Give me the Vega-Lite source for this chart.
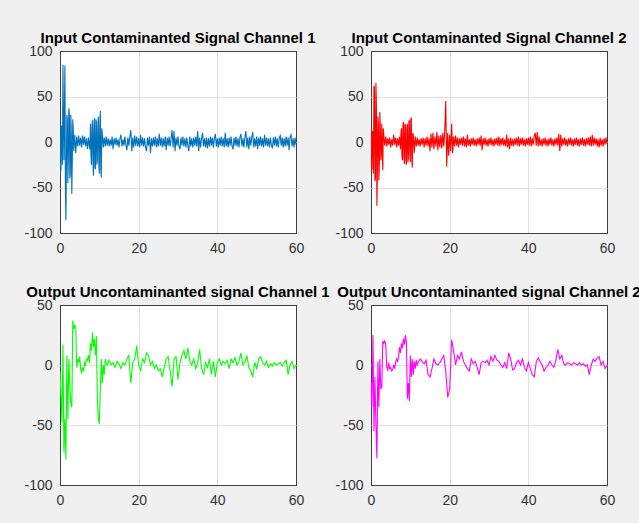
{
"$schema":"https://vega.github.io/schema/vega-lite/v6.json",
"background":"#f0f0f0",
"padding":{"left":23,"top":30,"right":0,"bottom":25},
"columns":2,
"bounds":"flush",
"spacing":{"row":72,"column":75},
"datasets":{
"a":[{"x":0,"y":20},{"x":0.25,"y":-30},{"x":0.5,"y":15},{"x":0.75,"y":85},{"x":1,"y":-20},{"x":1.25,"y":84},{"x":1.5,"y":-86},{"x":1.75,"y":30},{"x":2,"y":-45},{"x":2.25,"y":37},{"x":2.5,"y":-40},{"x":2.75,"y":30},{"x":3,"y":-57},{"x":3.25,"y":25},{"x":3.5,"y":-10},{"x":3.75,"y":8},{"x":4,"y":-12},{"x":4.25,"y":6},{"x":4.5,"y":-5},{"x":4.75,"y":7},{"x":5,"y":-4},{"x":5.25,"y":5},{"x":5.5,"y":-6},{"x":5.75,"y":7},{"x":6,"y":-3},{"x":6.25,"y":6},{"x":6.5,"y":-5},{"x":6.75,"y":4},{"x":7,"y":-8},{"x":7.25,"y":5},{"x":7.5,"y":-6},{"x":7.75,"y":20},{"x":8,"y":-25},{"x":8.25,"y":24},{"x":8.5,"y":-37},{"x":8.75,"y":26},{"x":9,"y":-30},{"x":9.25,"y":22},{"x":9.5,"y":-20},{"x":9.75,"y":28},{"x":10,"y":-35},{"x":10.25,"y":34},{"x":10.5,"y":-39},{"x":10.75,"y":10},{"x":11,"y":-6},{"x":11.25,"y":5},{"x":11.5,"y":-5},{"x":11.75,"y":6},{"x":12,"y":-4},
{"x":0.125,"y":-35},{"x":0.375,"y":18},{"x":0.625,"y":-25},{"x":0.875,"y":30},{"x":1.125,"y":35},{"x":1.375,"y":-50},{"x":1.625,"y":-30},{"x":1.875,"y":25},{"x":2.125,"y":-20},{"x":2.375,"y":32},{"x":2.625,"y":-35},{"x":2.875,"y":10},{"x":3.125,"y":-20},{"x":3.375,"y":12},{"x":7.625,"y":-8},{"x":7.875,"y":-15},{"x":8.125,"y":15},{"x":8.375,"y":-20},{"x":8.625,"y":18},{"x":8.875,"y":-28},{"x":9.125,"y":25},{"x":9.375,"y":-25},{"x":9.625,"y":18},{"x":9.875,"y":-22},{"x":10.125,"y":20},{"x":10.375,"y":-30},{"x":10.625,"y":15},
{"x":12.25,"y":4},{"x":12.5,"y":-5},{"x":12.75,"y":3},{"x":13,"y":-4},{"x":13.25,"y":6},{"x":13.5,"y":-8},{"x":13.75,"y":4},{"x":14,"y":-3},{"x":14.25,"y":5},{"x":14.5,"y":-4},{"x":14.75,"y":3},{"x":15,"y":-6},{"x":15.25,"y":4},{"x":15.5,"y":8},{"x":15.75,"y":-5},{"x":16,"y":3},{"x":16.25,"y":-4},{"x":16.5,"y":6},{"x":16.75,"y":-3},{"x":17,"y":-9},{"x":17.25,"y":5},{"x":17.5,"y":-4},{"x":17.75,"y":6},{"x":18,"y":13},{"x":18.25,"y":-10},{"x":18.5,"y":5},{"x":18.75,"y":-6},{"x":19,"y":7},{"x":19.25,"y":-4},{"x":19.5,"y":6},{"x":19.75,"y":-5},{"x":20,"y":4},{"x":20.25,"y":-6},{"x":20.5,"y":8},{"x":20.75,"y":-4},{"x":21,"y":5},{"x":21.25,"y":-5},{"x":21.5,"y":4},{"x":21.75,"y":-6},{"x":22,"y":-10},{"x":22.25,"y":5},{"x":22.5,"y":-4},{"x":22.75,"y":6},{"x":23,"y":-12},{"x":23.25,"y":4},{"x":23.5,"y":-5},{"x":23.75,"y":5},{"x":24,"y":-4},{"x":24.25,"y":6},{"x":24.5,"y":-6},{"x":24.75,"y":4},{"x":25,"y":-5},{"x":25.25,"y":9},{"x":25.5,"y":-4},{"x":25.75,"y":5},{"x":26,"y":-6},{"x":26.25,"y":4},{"x":26.5,"y":-5},{"x":26.75,"y":6},{"x":27,"y":-9},{"x":27.25,"y":5},{"x":27.5,"y":-4},{"x":27.75,"y":6},{"x":28,"y":-5},{"x":28.25,"y":4},{"x":28.5,"y":13},{"x":28.75,"y":-6},{"x":29,"y":12},{"x":29.25,"y":-10},{"x":29.5,"y":5},{"x":29.75,"y":-4},{"x":30,"y":6},{"x":30.25,"y":-5},{"x":30.5,"y":-8},{"x":30.75,"y":5},{"x":31,"y":-4},{"x":31.25,"y":6},{"x":31.5,"y":-5},{"x":31.75,"y":4},{"x":32,"y":-6},{"x":32.25,"y":5},{"x":32.5,"y":-4},{"x":32.75,"y":-10},{"x":33,"y":6},{"x":33.25,"y":-5},{"x":33.5,"y":4},{"x":33.75,"y":-6},{"x":34,"y":5},{"x":34.25,"y":-4},{"x":34.5,"y":6},{"x":34.75,"y":-5},{"x":35,"y":12},{"x":35.25,"y":-10},{"x":35.5,"y":5},{"x":35.75,"y":-6},{"x":36,"y":4},{"x":36.25,"y":10},{"x":36.5,"y":-5},{"x":36.75,"y":4},{"x":37,"y":-6},{"x":37.25,"y":5},{"x":37.5,"y":-7},{"x":37.75,"y":4},{"x":38,"y":-5},{"x":38.25,"y":6},{"x":38.5,"y":-4},{"x":38.75,"y":5},{"x":39,"y":-6},{"x":39.25,"y":4},{"x":39.5,"y":9},{"x":39.75,"y":-5},{"x":40,"y":4},{"x":40.25,"y":-6},{"x":40.5,"y":5},{"x":40.75,"y":-4},{"x":41,"y":6},{"x":41.25,"y":-5},{"x":41.5,"y":4},{"x":41.75,"y":-6},{"x":42,"y":10},{"x":42.25,"y":-5},{"x":42.5,"y":4},{"x":42.75,"y":-6},{"x":43,"y":5},{"x":43.25,"y":-4},{"x":43.5,"y":6},{"x":43.75,"y":-5},{"x":44,"y":-8},{"x":44.25,"y":5},{"x":44.5,"y":-4},{"x":44.75,"y":6},{"x":45,"y":-5},{"x":45.25,"y":4},{"x":45.5,"y":-6},{"x":45.75,"y":5},{"x":46,"y":9},{"x":46.25,"y":-5},{"x":46.5,"y":4},{"x":46.75,"y":-6},{"x":47,"y":5},{"x":47.25,"y":12},{"x":47.5,"y":-6},{"x":47.75,"y":5},{"x":48,"y":-8},{"x":48.25,"y":6},{"x":48.5,"y":-4},{"x":48.75,"y":5},{"x":49,"y":11},{"x":49.25,"y":-6},{"x":49.5,"y":4},{"x":49.75,"y":-5},{"x":50,"y":6},{"x":50.25,"y":-8},{"x":50.5,"y":5},{"x":50.75,"y":-4},{"x":51,"y":6},{"x":51.25,"y":-5},{"x":51.5,"y":4},{"x":51.75,"y":-6},{"x":52,"y":8},{"x":52.25,"y":-4},{"x":52.5,"y":5},{"x":52.75,"y":-5},{"x":53,"y":4},{"x":53.25,"y":-6},{"x":53.5,"y":5},{"x":53.75,"y":-4},{"x":54,"y":-7},{"x":54.25,"y":5},{"x":54.5,"y":-4},{"x":54.75,"y":6},{"x":55,"y":-5},{"x":55.25,"y":4},{"x":55.5,"y":-6},{"x":55.75,"y":5},{"x":56,"y":7},{"x":56.25,"y":-4},{"x":56.5,"y":5},{"x":56.75,"y":-6},{"x":57,"y":4},{"x":57.25,"y":-5},{"x":57.5,"y":6},{"x":57.75,"y":-4},{"x":58,"y":5},{"x":58.25,"y":-9},{"x":58.5,"y":6},{"x":58.75,"y":8},{"x":59,"y":-5},{"x":59.25,"y":4},{"x":59.5,"y":-6},{"x":59.75,"y":5},{"x":60,"y":-3}],
"b":[{"x":0,"y":15},{"x":0.25,"y":-30},{"x":0.5,"y":10},{"x":0.75,"y":62},{"x":1,"y":-43},{"x":1.25,"y":65},{"x":1.5,"y":-70},{"x":1.75,"y":28},{"x":2,"y":-42},{"x":2.25,"y":33},{"x":2.5,"y":-20},{"x":2.75,"y":20},{"x":3,"y":-31},{"x":3.25,"y":8},{"x":3.5,"y":-4},{"x":3.75,"y":6},{"x":4,"y":-5},{"x":4.25,"y":4},{"x":4.5,"y":-3},{"x":4.75,"y":5},{"x":5,"y":-6},{"x":5.25,"y":3},{"x":5.5,"y":-4},{"x":5.75,"y":8},{"x":6,"y":-3},{"x":6.25,"y":5},{"x":6.5,"y":-6},{"x":6.75,"y":4},{"x":7,"y":-4},{"x":7.25,"y":6},{"x":7.5,"y":-8},{"x":7.75,"y":15},{"x":8,"y":-20},{"x":8.25,"y":22},{"x":8.5,"y":-24},{"x":8.75,"y":18},{"x":9,"y":-25},{"x":9.25,"y":20},{"x":9.5,"y":-18},{"x":9.75,"y":24},{"x":10,"y":-22},{"x":10.25,"y":27},{"x":10.5,"y":-28},{"x":10.75,"y":8},{"x":11,"y":-12},{"x":11.25,"y":6},{"x":11.5,"y":-5},{"x":11.75,"y":5},{"x":12,"y":-4},
{"x":0.125,"y":-25},{"x":0.375,"y":12},{"x":0.625,"y":-35},{"x":0.875,"y":60},{"x":1.125,"y":-40},{"x":1.375,"y":40},{"x":1.625,"y":-35},{"x":1.875,"y":20},{"x":2.125,"y":-25},{"x":2.375,"y":15},{"x":2.625,"y":-10},{"x":2.875,"y":-15},{"x":3.125,"y":15},{"x":7.625,"y":10},{"x":7.875,"y":-15},{"x":8.125,"y":18},{"x":8.375,"y":-18},{"x":8.625,"y":20},{"x":8.875,"y":-20},{"x":9.125,"y":15},{"x":9.375,"y":-22},{"x":9.625,"y":22},{"x":9.875,"y":-15},{"x":10.125,"y":25},{"x":10.375,"y":-20},{"x":10.625,"y":10},
{"x":12.25,"y":3},{"x":12.5,"y":-5},{"x":12.75,"y":4},{"x":13,"y":-3},{"x":13.25,"y":5},{"x":13.5,"y":-6},{"x":13.75,"y":4},{"x":14,"y":-4},{"x":14.25,"y":6},{"x":14.5,"y":-5},{"x":14.75,"y":4},{"x":15,"y":-10},{"x":15.25,"y":9},{"x":15.5,"y":-6},{"x":15.75,"y":10},{"x":16,"y":-8},{"x":16.25,"y":6},{"x":16.5,"y":-5},{"x":16.75,"y":11},{"x":17,"y":-9},{"x":17.25,"y":7},{"x":17.5,"y":-6},{"x":17.75,"y":8},{"x":18,"y":-7},{"x":18.25,"y":10},{"x":18.5,"y":-5},{"x":18.75,"y":12},{"x":19,"y":45},{"x":19.25,"y":-27},{"x":19.5,"y":10},{"x":19.75,"y":-15},{"x":20,"y":8},{"x":20.25,"y":-10},{"x":20.5,"y":20},{"x":20.75,"y":-12},{"x":21,"y":6},{"x":21.25,"y":-5},{"x":21.5,"y":7},{"x":21.75,"y":-4},{"x":22,"y":5},{"x":22.25,"y":-6},{"x":22.5,"y":4},{"x":22.75,"y":-3},{"x":23,"y":5},{"x":23.25,"y":-4},{"x":23.5,"y":6},{"x":23.75,"y":-5},{"x":24,"y":4},{"x":24.25,"y":-6},{"x":24.5,"y":8},{"x":24.75,"y":-4},{"x":25,"y":3},{"x":25.25,"y":-5},{"x":25.5,"y":4},{"x":25.75,"y":-3},{"x":26,"y":5},{"x":26.25,"y":-4},{"x":26.5,"y":3},{"x":26.75,"y":-5},{"x":27,"y":4},{"x":27.25,"y":-3},{"x":27.5,"y":5},{"x":27.75,"y":-4},{"x":28,"y":7},{"x":28.25,"y":-9},{"x":28.5,"y":4},{"x":28.75,"y":-3},{"x":29,"y":5},{"x":29.25,"y":-4},{"x":29.5,"y":3},{"x":29.75,"y":-5},{"x":30,"y":4},{"x":30.25,"y":-3},{"x":30.5,"y":5},{"x":30.75,"y":-4},{"x":31,"y":3},{"x":31.25,"y":-5},{"x":31.5,"y":4},{"x":31.75,"y":-3},{"x":32,"y":5},{"x":32.25,"y":-4},{"x":32.5,"y":6},{"x":32.75,"y":-5},{"x":33,"y":4},{"x":33.25,"y":-3},{"x":33.5,"y":5},{"x":33.75,"y":-4},{"x":34,"y":3},{"x":34.25,"y":-5},{"x":34.5,"y":8},{"x":34.75,"y":-6},{"x":35,"y":4},{"x":35.25,"y":-8},{"x":35.5,"y":5},{"x":35.75,"y":-4},{"x":36,"y":3},{"x":36.25,"y":-5},{"x":36.5,"y":4},{"x":36.75,"y":-3},{"x":37,"y":5},{"x":37.25,"y":-4},{"x":37.5,"y":6},{"x":37.75,"y":-5},{"x":38,"y":4},{"x":38.25,"y":-3},{"x":38.5,"y":5},{"x":38.75,"y":-4},{"x":39,"y":3},{"x":39.25,"y":-5},{"x":39.5,"y":4},{"x":39.75,"y":-3},{"x":40,"y":5},{"x":40.25,"y":-4},{"x":40.5,"y":6},{"x":40.75,"y":-5},{"x":41,"y":4},{"x":41.25,"y":-3},{"x":41.5,"y":7},{"x":41.75,"y":10},{"x":42,"y":-4},{"x":42.25,"y":11},{"x":42.5,"y":-5},{"x":42.75,"y":6},{"x":43,"y":-4},{"x":43.25,"y":3},{"x":43.5,"y":-5},{"x":43.75,"y":4},{"x":44,"y":-3},{"x":44.25,"y":5},{"x":44.5,"y":-4},{"x":44.75,"y":3},{"x":45,"y":-5},{"x":45.25,"y":4},{"x":45.5,"y":-3},{"x":45.75,"y":5},{"x":46,"y":-4},{"x":46.25,"y":3},{"x":46.5,"y":-5},{"x":46.75,"y":4},{"x":47,"y":-3},{"x":47.25,"y":5},{"x":47.5,"y":-4},{"x":47.75,"y":9},{"x":48,"y":-10},{"x":48.25,"y":8},{"x":48.5,"y":-5},{"x":48.75,"y":4},{"x":49,"y":-3},{"x":49.25,"y":5},{"x":49.5,"y":-4},{"x":49.75,"y":3},{"x":50,"y":-5},{"x":50.25,"y":4},{"x":50.5,"y":-3},{"x":50.75,"y":5},{"x":51,"y":-4},{"x":51.25,"y":3},{"x":51.5,"y":-5},{"x":51.75,"y":4},{"x":52,"y":-3},{"x":52.25,"y":5},{"x":52.5,"y":-4},{"x":52.75,"y":3},{"x":53,"y":-5},{"x":53.25,"y":4},{"x":53.5,"y":-3},{"x":53.75,"y":5},{"x":54,"y":-4},{"x":54.25,"y":3},{"x":54.5,"y":-5},{"x":54.75,"y":4},{"x":55,"y":-3},{"x":55.25,"y":5},{"x":55.5,"y":-4},{"x":55.75,"y":6},{"x":56,"y":-5},{"x":56.25,"y":8},{"x":56.5,"y":-4},{"x":56.75,"y":5},{"x":57,"y":-3},{"x":57.25,"y":4},{"x":57.5,"y":-5},{"x":57.75,"y":3},{"x":58,"y":-6},{"x":58.25,"y":5},{"x":58.5,"y":-4},{"x":58.75,"y":3},{"x":59,"y":-5},{"x":59.25,"y":4},{"x":59.5,"y":-3},{"x":59.75,"y":5},{"x":60,"y":-2}],
"c":[{"x":0,"y":-5},{"x":0.25,"y":-25},{"x":0.5,"y":-48},{"x":0.75,"y":17},{"x":1,"y":-73},{"x":1.25,"y":-45},{"x":1.5,"y":-79},{"x":1.75,"y":8},{"x":2,"y":-45},{"x":2.25,"y":5},{"x":2.5,"y":-18},{"x":2.75,"y":-32},{"x":3,"y":-35},{"x":3.25,"y":37},{"x":3.5,"y":30},{"x":3.75,"y":33},{"x":4,"y":32},{"x":4.25,"y":-2},{"x":4.5,"y":5},{"x":4.75,"y":2},{"x":5,"y":7},{"x":5.25,"y":-3},{"x":5.5,"y":-7},{"x":5.75,"y":-2},{"x":6,"y":-5},{"x":6.25,"y":2},{"x":6.5,"y":0},{"x":6.75,"y":5},{"x":7,"y":4},{"x":7.25,"y":8},{"x":7.5,"y":2},{"x":7.75,"y":18},{"x":8,"y":12},{"x":8.25,"y":27},{"x":8.5,"y":15},{"x":8.75,"y":22},{"x":9,"y":8},{"x":9.25,"y":24},{"x":9.5,"y":-30},{"x":9.75,"y":-45},{"x":10,"y":-49},{"x":10.25,"y":-20},{"x":10.5,"y":5},{"x":10.75,"y":-15},{"x":11,"y":0},{"x":11.25,"y":-8},{"x":11.5,"y":5},{"x":11.75,"y":2},{"x":12,"y":0},
{"x":12.5,"y":4},{"x":13,"y":0},{"x":13.5,"y":2},{"x":14,"y":-2},{"x":14.5,"y":3},{"x":15,"y":1},{"x":15.5,"y":-3},{"x":16,"y":2},{"x":16.5,"y":0},{"x":17,"y":5},{"x":17.5,"y":8},{"x":18,"y":-15},{"x":18.5,"y":2},{"x":19,"y":5},{"x":19.5,"y":16},{"x":20,"y":0},{"x":20.5,"y":-5},{"x":21,"y":5},{"x":21.5,"y":2},{"x":22,"y":10},{"x":22.5,"y":8},{"x":23,"y":0},{"x":23.5,"y":3},{"x":24,"y":-3},{"x":24.5,"y":0},{"x":25,"y":-5},{"x":25.5,"y":-3},{"x":26,"y":-10},{"x":26.5,"y":-2},{"x":27,"y":5},{"x":27.5,"y":7},{"x":28,"y":-5},{"x":28.5,"y":-18},{"x":29,"y":5},{"x":29.5,"y":7},{"x":30,"y":-12},{"x":30.5,"y":2},{"x":31,"y":8},{"x":31.5,"y":12},{"x":32,"y":5},{"x":32.5,"y":14},{"x":33,"y":3},{"x":33.5,"y":0},{"x":34,"y":5},{"x":34.5,"y":-3},{"x":35,"y":2},{"x":35.5,"y":13},{"x":36,"y":-3},{"x":36.5,"y":-8},{"x":37,"y":2},{"x":37.5,"y":-2},{"x":38,"y":5},{"x":38.5,"y":-8},{"x":39,"y":3},{"x":39.5,"y":-10},{"x":40,"y":2},{"x":40.5,"y":5},{"x":41,"y":0},{"x":41.5,"y":3},{"x":42,"y":1},{"x":42.5,"y":4},{"x":43,"y":-3},{"x":43.5,"y":5},{"x":44,"y":2},{"x":44.5,"y":6},{"x":45,"y":0},{"x":45.5,"y":3},{"x":46,"y":10},{"x":46.5,"y":0},{"x":47,"y":2},{"x":47.5,"y":8},{"x":48,"y":-2},{"x":48.5,"y":-5},{"x":49,"y":-10},{"x":49.5,"y":2},{"x":50,"y":-3},{"x":50.5,"y":5},{"x":51,"y":7},{"x":51.5,"y":2},{"x":52,"y":0},{"x":52.5,"y":3},{"x":53,"y":-2},{"x":53.5,"y":1},{"x":54,"y":-1},{"x":54.5,"y":2},{"x":55,"y":0},{"x":55.5,"y":1},{"x":56,"y":2},{"x":56.5,"y":-1},{"x":57,"y":2},{"x":57.5,"y":4},{"x":58,"y":-8},{"x":58.5,"y":0},{"x":59,"y":3},{"x":59.5,"y":-3},{"x":60,"y":0}],
"d":[{"x":0,"y":-15},{"x":0.25,"y":-35},{"x":0.5,"y":25},{"x":0.75,"y":-55},{"x":1,"y":-10},{"x":1.25,"y":-50},{"x":1.5,"y":-78},{"x":1.75,"y":3},{"x":2,"y":-35},{"x":2.25,"y":5},{"x":2.5,"y":-20},{"x":2.75,"y":-18},{"x":3,"y":20},{"x":3.25,"y":18},{"x":3.5,"y":20},{"x":3.75,"y":17},{"x":4,"y":-2},{"x":4.25,"y":-4},{"x":4.5,"y":2},{"x":4.75,"y":-3},{"x":5,"y":-2},{"x":5.25,"y":-5},{"x":5.5,"y":-4},{"x":5.75,"y":0},{"x":6,"y":-3},{"x":6.25,"y":2},{"x":6.5,"y":5},{"x":6.75,"y":3},{"x":7,"y":6},{"x":7.25,"y":15},{"x":7.5,"y":10},{"x":7.75,"y":18},{"x":8,"y":14},{"x":8.25,"y":22},{"x":8.5,"y":17},{"x":8.75,"y":25},{"x":9,"y":20},{"x":9.25,"y":-28},{"x":9.5,"y":-15},{"x":9.75,"y":-30},{"x":10,"y":8},{"x":10.25,"y":-10},{"x":10.5,"y":5},{"x":10.75,"y":-8},{"x":11,"y":3},{"x":11.25,"y":-3},{"x":11.5,"y":4},{"x":11.75,"y":0},{"x":12,"y":2},
{"x":12.5,"y":5},{"x":13,"y":3},{"x":13.5,"y":1},{"x":14,"y":4},{"x":14.5,"y":-8},{"x":15,"y":-10},{"x":15.5,"y":-3},{"x":16,"y":5},{"x":16.5,"y":1},{"x":17,"y":0},{"x":17.5,"y":2},{"x":18,"y":5},{"x":18.5,"y":8},{"x":19,"y":-5},{"x":19.5,"y":-27},{"x":20,"y":-20},{"x":20.5,"y":21},{"x":21,"y":12},{"x":21.5,"y":0},{"x":22,"y":8},{"x":22.5,"y":5},{"x":23,"y":11},{"x":23.5,"y":3},{"x":24,"y":0},{"x":24.5,"y":-3},{"x":25,"y":-5},{"x":25.5,"y":5},{"x":26,"y":1},{"x":26.5,"y":3},{"x":27,"y":-2},{"x":27.5,"y":-8},{"x":28,"y":2},{"x":28.5,"y":3},{"x":29,"y":2},{"x":29.5,"y":4},{"x":30,"y":0},{"x":30.5,"y":7},{"x":31,"y":3},{"x":31.5,"y":8},{"x":32,"y":4},{"x":32.5,"y":3},{"x":33,"y":0},{"x":33.5,"y":-2},{"x":34,"y":2},{"x":34.5,"y":-3},{"x":35,"y":10},{"x":35.5,"y":5},{"x":36,"y":-4},{"x":36.5,"y":-3},{"x":37,"y":2},{"x":37.5,"y":4},{"x":38,"y":0},{"x":38.5,"y":5},{"x":39,"y":-2},{"x":39.5,"y":-5},{"x":40,"y":2},{"x":40.5,"y":-3},{"x":41,"y":-8},{"x":41.5,"y":-10},{"x":42,"y":2},{"x":42.5,"y":6},{"x":43,"y":3},{"x":43.5,"y":0},{"x":44,"y":-5},{"x":44.5,"y":-2},{"x":45,"y":0},{"x":45.5,"y":3},{"x":46,"y":0},{"x":46.5,"y":-2},{"x":47,"y":4},{"x":47.5,"y":13},{"x":48,"y":5},{"x":48.5,"y":8},{"x":49,"y":1},{"x":49.5,"y":0},{"x":50,"y":2},{"x":50.5,"y":1},{"x":51,"y":0},{"x":51.5,"y":2},{"x":52,"y":1},{"x":52.5,"y":0},{"x":53,"y":2},{"x":53.5,"y":0},{"x":54,"y":1},{"x":54.5,"y":-1},{"x":55,"y":0},{"x":55.5,"y":-8},{"x":56,"y":0},{"x":56.5,"y":5},{"x":57,"y":3},{"x":57.5,"y":6},{"x":58,"y":7},{"x":58.5,"y":0},{"x":59,"y":3},{"x":59.5,"y":-3},{"x":60,"y":0}]
},
"concat":[
{"width":236,"height":182,"title":"Input Contaminanted Signal Channel 1","data":{"name":"a"},
 "mark":{"type":"line","color":"#0072BD","strokeWidth":1.1,"clip":true},
 "encoding":{"x":{"field":"x","type":"quantitative","scale":{"domain":[0,60],"nice":false,"zero":false},"axis":{"values":[0,20,40,60],"title":null,"gridColor":{"condition":{"test":"datum.value==0||datum.value==60","value":"#404040"},"value":"#e0e0e0"}}},
 "y":{"field":"y","type":"quantitative","scale":{"domain":[-100,100],"nice":false},"axis":{"values":[-100,-50,0,50,100],"title":null,"gridColor":{"condition":{"test":"datum.value==-100||datum.value==100","value":"#404040"},"value":"#e0e0e0"}}}}},
{"width":236,"height":182,"title":"Input Contaminanted Signal Channel 2","data":{"name":"b"},
 "mark":{"type":"line","color":"#FF0000","strokeWidth":1.1,"clip":true},
 "encoding":{"x":{"field":"x","type":"quantitative","scale":{"domain":[0,60],"nice":false,"zero":false},"axis":{"values":[0,20,40,60],"title":null,"gridColor":{"condition":{"test":"datum.value==0||datum.value==60","value":"#404040"},"value":"#e0e0e0"}}},
 "y":{"field":"y","type":"quantitative","scale":{"domain":[-100,100],"nice":false},"axis":{"values":[-100,-50,0,50,100],"title":null,"gridColor":{"condition":{"test":"datum.value==-100||datum.value==100","value":"#404040"},"value":"#e0e0e0"}}}}},
{"width":236,"height":180,"title":"Output Uncontaminanted signal Channel 1","data":{"name":"c"},
 "mark":{"type":"line","color":"#00FF00","strokeWidth":1.1,"clip":true},
 "encoding":{"x":{"field":"x","type":"quantitative","scale":{"domain":[0,60],"nice":false,"zero":false},"axis":{"values":[0,20,40,60],"title":null,"gridColor":{"condition":{"test":"datum.value==0||datum.value==60","value":"#404040"},"value":"#e0e0e0"}}},
 "y":{"field":"y","type":"quantitative","scale":{"domain":[-100,50],"nice":false},"axis":{"values":[-100,-50,0,50],"title":null,"gridColor":{"condition":{"test":"datum.value==-100||datum.value==50","value":"#404040"},"value":"#e0e0e0"}}}}},
{"width":236,"height":180,"title":"Output Uncontaminanted signal Channel 2","data":{"name":"d"},
 "mark":{"type":"line","color":"#FF00FF","strokeWidth":1.1,"clip":true},
 "encoding":{"x":{"field":"x","type":"quantitative","scale":{"domain":[0,60],"nice":false,"zero":false},"axis":{"values":[0,20,40,60],"title":null,"gridColor":{"condition":{"test":"datum.value==0||datum.value==60","value":"#404040"},"value":"#e0e0e0"}}},
 "y":{"field":"y","type":"quantitative","scale":{"domain":[-100,50],"nice":false},"axis":{"values":[-100,-50,0,50],"title":null,"gridColor":{"condition":{"test":"datum.value==-100||datum.value==50","value":"#404040"},"value":"#e0e0e0"}}}}}
],
"resolve":{"scale":{"x":"independent","y":"independent"}},
"config":{
 "view":{"fill":"white","stroke":"#404040","strokeWidth":1},
 "axis":{"domain":false,"ticks":false,"grid":true,"gridWidth":1,"labelFont":"Liberation Sans","labelFontSize":14,"labelColor":"#333333","labelPadding":8,"labelFlush":false,"labelOverlap":false,"labelExpr":"'' + datum.value"},
 "title":{"font":"Liberation Sans","fontSize":15,"fontWeight":"bold","color":"#000000","offset":-2}
}
}
